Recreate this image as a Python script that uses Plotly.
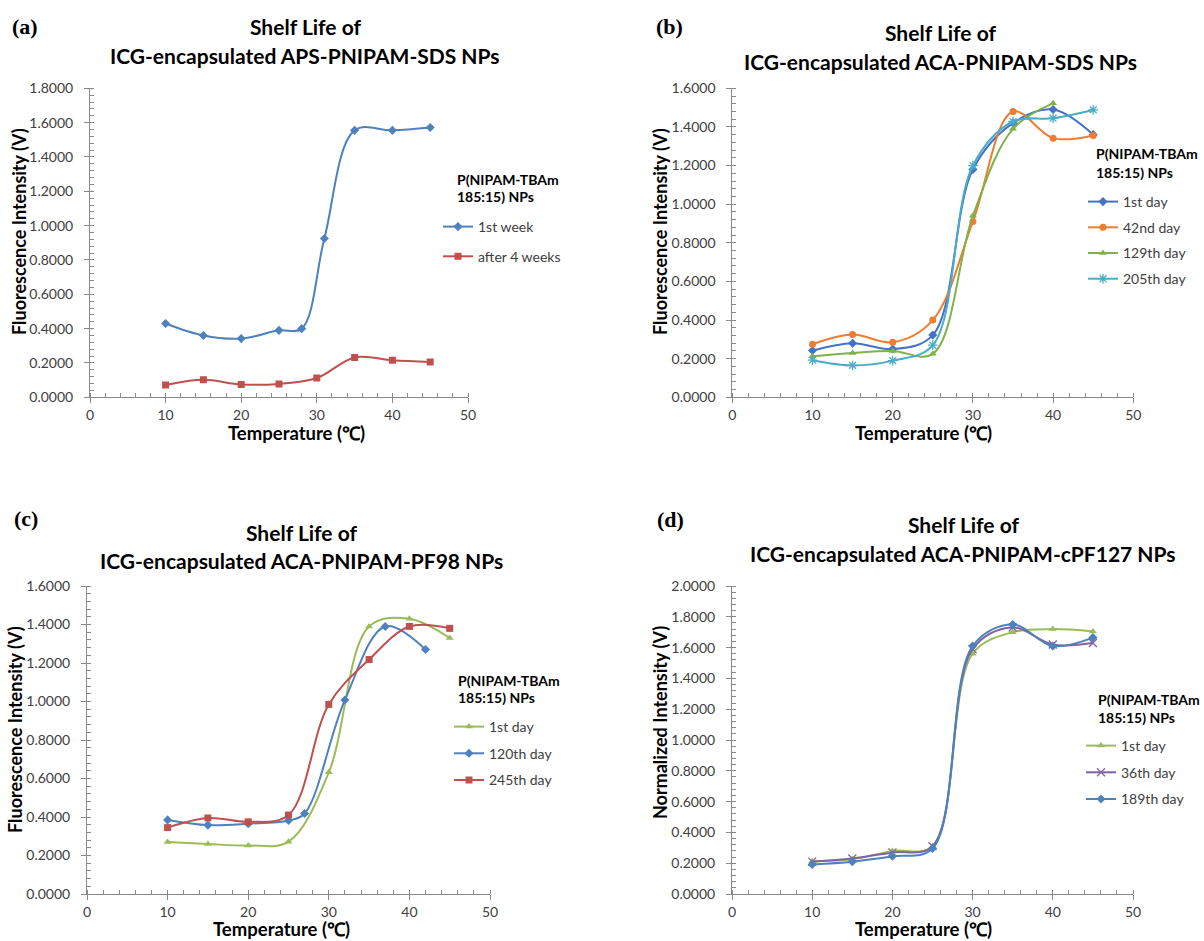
import plotly.graph_objects as go

W, H = 1204, 941

# ---------------- data ----------------
# (a)
a_x1 = [10, 15, 20, 25, 28, 31, 35, 40, 45]
a_week1 = [0.430, 0.360, 0.342, 0.390, 0.400, 0.925, 1.555, 1.555, 1.572]
a_x2 = [10, 15, 20, 25, 30, 35, 40, 45]
a_week4 = [0.072, 0.102, 0.075, 0.078, 0.112, 0.232, 0.216, 0.205]

# (b)
b_x = [10, 15, 20, 25, 30, 35, 40, 45]
b_day1 = [0.242, 0.280, 0.250, 0.322, 1.180, 1.420, 1.490, 1.360]
b_day42 = [0.275, 0.325, 0.285, 0.400, 0.910, 1.480, 1.342, 1.356]
b_x129 = [10, 15, 20, 25, 30, 35, 40]
b_day129 = [0.212, 0.230, 0.240, 0.225, 0.940, 1.390, 1.522]
b_day205 = [0.192, 0.165, 0.190, 0.270, 1.200, 1.428, 1.445, 1.488]

# (c)
c_x = [10, 15, 20, 25, 30, 35, 40, 45]
c_day1 = [0.270, 0.260, 0.252, 0.272, 0.632, 1.390, 1.430, 1.330]
c_x120 = [10, 15, 20, 25, 27, 32, 37, 42]
c_day120 = [0.385, 0.358, 0.365, 0.382, 0.418, 1.008, 1.390, 1.270]
c_day245 = [0.345, 0.395, 0.375, 0.410, 0.985, 1.218, 1.390, 1.380]

# (d)
d_x = [10, 15, 20, 25, 30, 35, 40, 45]
d_day1 = [0.212, 0.225, 0.280, 0.310, 1.560, 1.700, 1.720, 1.705]
d_day36 = [0.210, 0.230, 0.270, 0.310, 1.590, 1.730, 1.620, 1.630]
d_day189 = [0.192, 0.210, 0.245, 0.295, 1.610, 1.750, 1.610, 1.665]

legend_title_lines = ["P(NIPAM-TBAm", "185:15) NPs"]
x_title = "Temperature (\u2103)"

BLUE = "#4F81BD"
BLUE2 = "#4472C4"
RED = "#C0504D"
GREEN = "#9BBB59"
GREEN2 = "#7FB24A"
ORANGE = "#ED7D31"
AQUA = "#4BACC6"
PURPLE = "#8064A2"

FONT = "Lato"
TICKC = "#404040"
AXC = "#898989"

# plot areas in pixels: (x0, x50, ytop, ybottom)
areas = {
    1: (90, 468, 88.3, 397.3),
    2: (732.3, 1133.3, 88.3, 397.3),
    3: (87, 490, 586, 894),
    4: (732, 1133, 586, 894),
}
yranges = {1: 1.8, 2: 1.6, 3: 1.6, 4: 2.0}

fig = go.Figure()


def add(panel, x, y, name, color, symbol, size=7, legend="legend"):
    suffix = "" if panel == 1 else str(panel)
    mk = dict(symbol=symbol, size=size, color=color)
    if "open" in symbol:
        mk["line"] = dict(color=color, width=1.3)
    fig.add_trace(go.Scatter(
        x=x, y=y, name=name, mode="lines+markers",
        line=dict(color=color, width=2, shape="spline", smoothing=1.0),
        marker=mk,
        xaxis="x" + suffix, yaxis="y" + suffix,
        legend=legend, legendgroup=name + str(panel),
    ))


add(1, a_x1, a_week1, "1st week", BLUE, "diamond", legend="legend")
add(1, a_x2, a_week4, "after 4 weeks", RED, "square", legend="legend")

add(2, b_x, b_day1, "1st day", BLUE2, "diamond", legend="legend2")
add(2, b_x, b_day42, "42nd day", ORANGE, "circle", legend="legend2")
add(2, b_x129, b_day129, "129th day", GREEN2, "triangle-up", legend="legend2")
add(2, b_x, b_day205, "205th day", AQUA, "asterisk-open", size=8, legend="legend2")

add(3, c_x, c_day1, "1st day", GREEN, "triangle-up", legend="legend3")
add(3, c_x120, c_day120, "120th day", BLUE, "diamond", legend="legend3")
add(3, c_x, c_day245, "245th day", RED, "square", legend="legend3")

add(4, d_x, d_day1, "1st day", GREEN, "triangle-up", legend="legend4")
add(4, d_x, d_day36, "36th day", PURPLE, "x-thin-open", size=8, legend="legend4")
add(4, d_x, d_day189, "189th day", BLUE, "diamond", legend="legend4")

layout = dict(
    width=W, height=H, margin=dict(l=0, r=0, t=0, b=0, autoexpand=False),
    paper_bgcolor="white", plot_bgcolor="white", showlegend=True,
    font=dict(family=FONT, color="black"),
)

for p, (x0, x50, yt, yb) in areas.items():
    suffix = "" if p == 1 else str(p)
    layout["xaxis" + suffix] = dict(
        domain=[x0 / W, x50 / W], anchor="y" + suffix, range=[0, 50],
        dtick=10, tick0=0, showline=True, linecolor=AXC, linewidth=1,
        ticks="outside", ticklen=5, tickcolor=AXC, showgrid=False, zeroline=False,
        minor=dict(dtick=2, ticks="inside", ticklen=4, tickcolor=AXC),
        tickfont=dict(size=14, color=TICKC, family=FONT),
        ticklabelstandoff=0,
    )
    layout["yaxis" + suffix] = dict(
        domain=[1 - yb / H, 1 - yt / H], anchor="x" + suffix,
        range=[0, yranges[p]], dtick=0.2, tick0=0, tickformat=".4f",
        showline=True, linecolor=AXC, linewidth=1,
        ticks="outside", ticklen=5, tickcolor=AXC, showgrid=False, zeroline=False,
        minor=dict(dtick=0.04, ticks="inside", ticklen=4, tickcolor=AXC),
        tickfont=dict(size=14, color=TICKC, family=FONT),
        ticklabelstandoff=8,
    )

# legend: (text left x, first item centre y, gap)
leg_pos = {
    "legend": (478, 227, 8.5),
    "legend2": (1123, 202, 4.5),
    "legend3": (489, 727, 5.5),
    "legend4": (1121, 746, 5.5),
}
for key, (tx, ty, gap) in leg_pos.items():
    layout[key] = dict(
        x=(tx - 40) / W, y=1 - (ty - 16) / H, xanchor="left", yanchor="top",
        bgcolor="rgba(0,0,0,0)", borderwidth=0,
        font=dict(size=14, family=FONT, color=TICKC),
        tracegroupgap=gap, itemwidth=30,
    )

fig.update_layout(**layout)


def ann(text, x, y, size, family=FONT, xanchor="center", angle=0, color="black"):
    fig.add_annotation(text=text, x=x / W, y=1 - y / H, xref="paper", yref="paper",
                       showarrow=False, xanchor=xanchor, yanchor="middle", textangle=angle,
                       font=dict(size=size, family=family, color=color))


# titles
titles = [
    ("Shelf Life of", 305, 27), ("ICG-encapsulated APS-PNIPAM-SDS NPs", 305, 55),
    ("Shelf Life of", 940, 32), ("ICG-encapsulated ACA-PNIPAM-SDS NPs", 940, 61),
    ("Shelf Life of", 301, 532), ("ICG-encapsulated ACA-PNIPAM-PF98 NPs", 301, 560),
    ("Shelf Life of", 963, 524), ("ICG-encapsulated ACA-PNIPAM-cPF127 NPs", 963, 553),
]
for t, x, y in titles:
    ann("<b>%s</b>" % t, x, y, 21)

# panel labels
for t, x, y in [("(a)", 25, 27), ("(b)", 669, 27), ("(c)", 26, 518), ("(d)", 670, 519)]:
    ann("<b>%s</b>" % t, x, y, 22, family="Liberation Serif")

# x-axis titles
for x, y in [(296, 433), (923, 433), (281, 928.5), (923, 928.5)]:
    ann("<b>%s</b>" % x_title, x, y, 18.5)

# y-axis titles
for t, x, y in [("Fluorescence Intensity (V)", 19, 232), ("Fluorescence Intensity (V)", 660, 232),
                ("Fluorescence Intensity (V)", 15, 730), ("Normalized Intensity (V)", 660, 723)]:
    ann("<b>%s</b>" % t, x, y, 18, angle=-90)

# legend titles
for x, y1, y2 in [(455, 179, 197), (1094, 154, 172), (456, 680, 697), (1096, 699, 717)]:
    ann("<b>%s</b>" % legend_title_lines[0], x, y1, 14, xanchor="left")
    ann("<b>%s</b>" % legend_title_lines[1], x, y2, 14, xanchor="left")

fig.write_html("out.html")
